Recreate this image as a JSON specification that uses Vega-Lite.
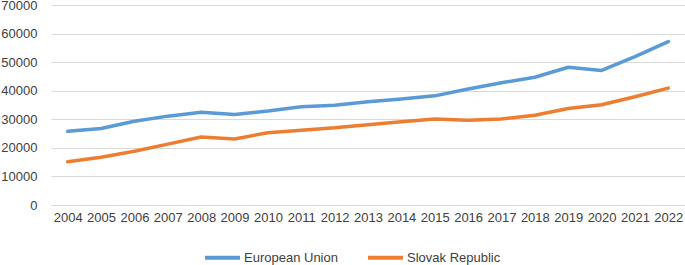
{
  "$schema": "https://vega.github.io/schema/vega-lite/v6.json",
  "width": 634,
  "height": 200,
  "autosize": "none",
  "padding": {"left": 51, "top": 5, "right": 0, "bottom": 60},
  "background": "white",
  "config": {
    "view": {"stroke": null},
    "font": "Liberation Sans",
    "axis": {"labelFont": "Liberation Sans", "labelFontSize": 13, "labelColor": "#404040"},
    "legend": {"labelFont": "Liberation Sans", "labelFontSize": 13, "labelColor": "#404040"}
  },
  "data": {
    "values": [
      {"year": "2004", "series": "European Union", "value": 25800},
      {"year": "2005", "series": "European Union", "value": 26800},
      {"year": "2006", "series": "European Union", "value": 29300},
      {"year": "2007", "series": "European Union", "value": 31100},
      {"year": "2008", "series": "European Union", "value": 32500},
      {"year": "2009", "series": "European Union", "value": 31700},
      {"year": "2010", "series": "European Union", "value": 32900},
      {"year": "2011", "series": "European Union", "value": 34400},
      {"year": "2012", "series": "European Union", "value": 34900},
      {"year": "2013", "series": "European Union", "value": 36100},
      {"year": "2014", "series": "European Union", "value": 37100},
      {"year": "2015", "series": "European Union", "value": 38200},
      {"year": "2016", "series": "European Union", "value": 40600},
      {"year": "2017", "series": "European Union", "value": 42800},
      {"year": "2018", "series": "European Union", "value": 44700},
      {"year": "2019", "series": "European Union", "value": 48200},
      {"year": "2020", "series": "European Union", "value": 47100},
      {"year": "2021", "series": "European Union", "value": 51900},
      {"year": "2022", "series": "European Union", "value": 57200},
      {"year": "2004", "series": "Slovak Republic", "value": 15100},
      {"year": "2005", "series": "Slovak Republic", "value": 16700},
      {"year": "2006", "series": "Slovak Republic", "value": 18800},
      {"year": "2007", "series": "Slovak Republic", "value": 21300},
      {"year": "2008", "series": "Slovak Republic", "value": 23800},
      {"year": "2009", "series": "Slovak Republic", "value": 23100},
      {"year": "2010", "series": "Slovak Republic", "value": 25300},
      {"year": "2011", "series": "Slovak Republic", "value": 26200},
      {"year": "2012", "series": "Slovak Republic", "value": 27000},
      {"year": "2013", "series": "Slovak Republic", "value": 28100},
      {"year": "2014", "series": "Slovak Republic", "value": 29100},
      {"year": "2015", "series": "Slovak Republic", "value": 30100},
      {"year": "2016", "series": "Slovak Republic", "value": 29700},
      {"year": "2017", "series": "Slovak Republic", "value": 30100},
      {"year": "2018", "series": "Slovak Republic", "value": 31400},
      {"year": "2019", "series": "Slovak Republic", "value": 33800},
      {"year": "2020", "series": "Slovak Republic", "value": 35100},
      {"year": "2021", "series": "Slovak Republic", "value": 37900},
      {"year": "2022", "series": "Slovak Republic", "value": 40900}
    ]
  },
  "mark": {"type": "line", "strokeWidth": 3.5, "strokeCap": "round", "strokeJoin": "round"},
  "encoding": {
    "x": {
      "field": "year",
      "type": "ordinal",
      "scale": {"type": "point", "padding": 0.5},
      "axis": {
        "title": null,
        "labelAngle": 0,
        "ticks": false,
        "domain": true,
        "domainColor": "#d9d9d9",
        "domainWidth": 1,
        "grid": false,
        "labelPadding": 6
      }
    },
    "y": {
      "field": "value",
      "type": "quantitative",
      "scale": {"domain": [0, 70000], "nice": false},
      "axis": {
        "title": null,
        "values": [0, 10000, 20000, 30000, 40000, 50000, 60000, 70000],
        "format": "d",
        "ticks": false,
        "domain": false,
        "grid": true,
        "gridColor": "#d9d9d9",
        "gridWidth": 1,
        "labelPadding": 14
      }
    },
    "color": {
      "field": "series",
      "type": "nominal",
      "scale": {"domain": ["European Union", "Slovak Republic"], "range": ["#5B9BD5", "#ED7D31"]},
      "legend": {
        "title": null,
        "orient": "none",
        "direction": "horizontal",
        "legendX": 152,
        "legendY": 233,
        "symbolType": "stroke",
        "symbolSize": 1225,
        "symbolStrokeWidth": 4,
        "labelOffset": 2,
        "columnPadding": 22
      }
    }
  }
}
